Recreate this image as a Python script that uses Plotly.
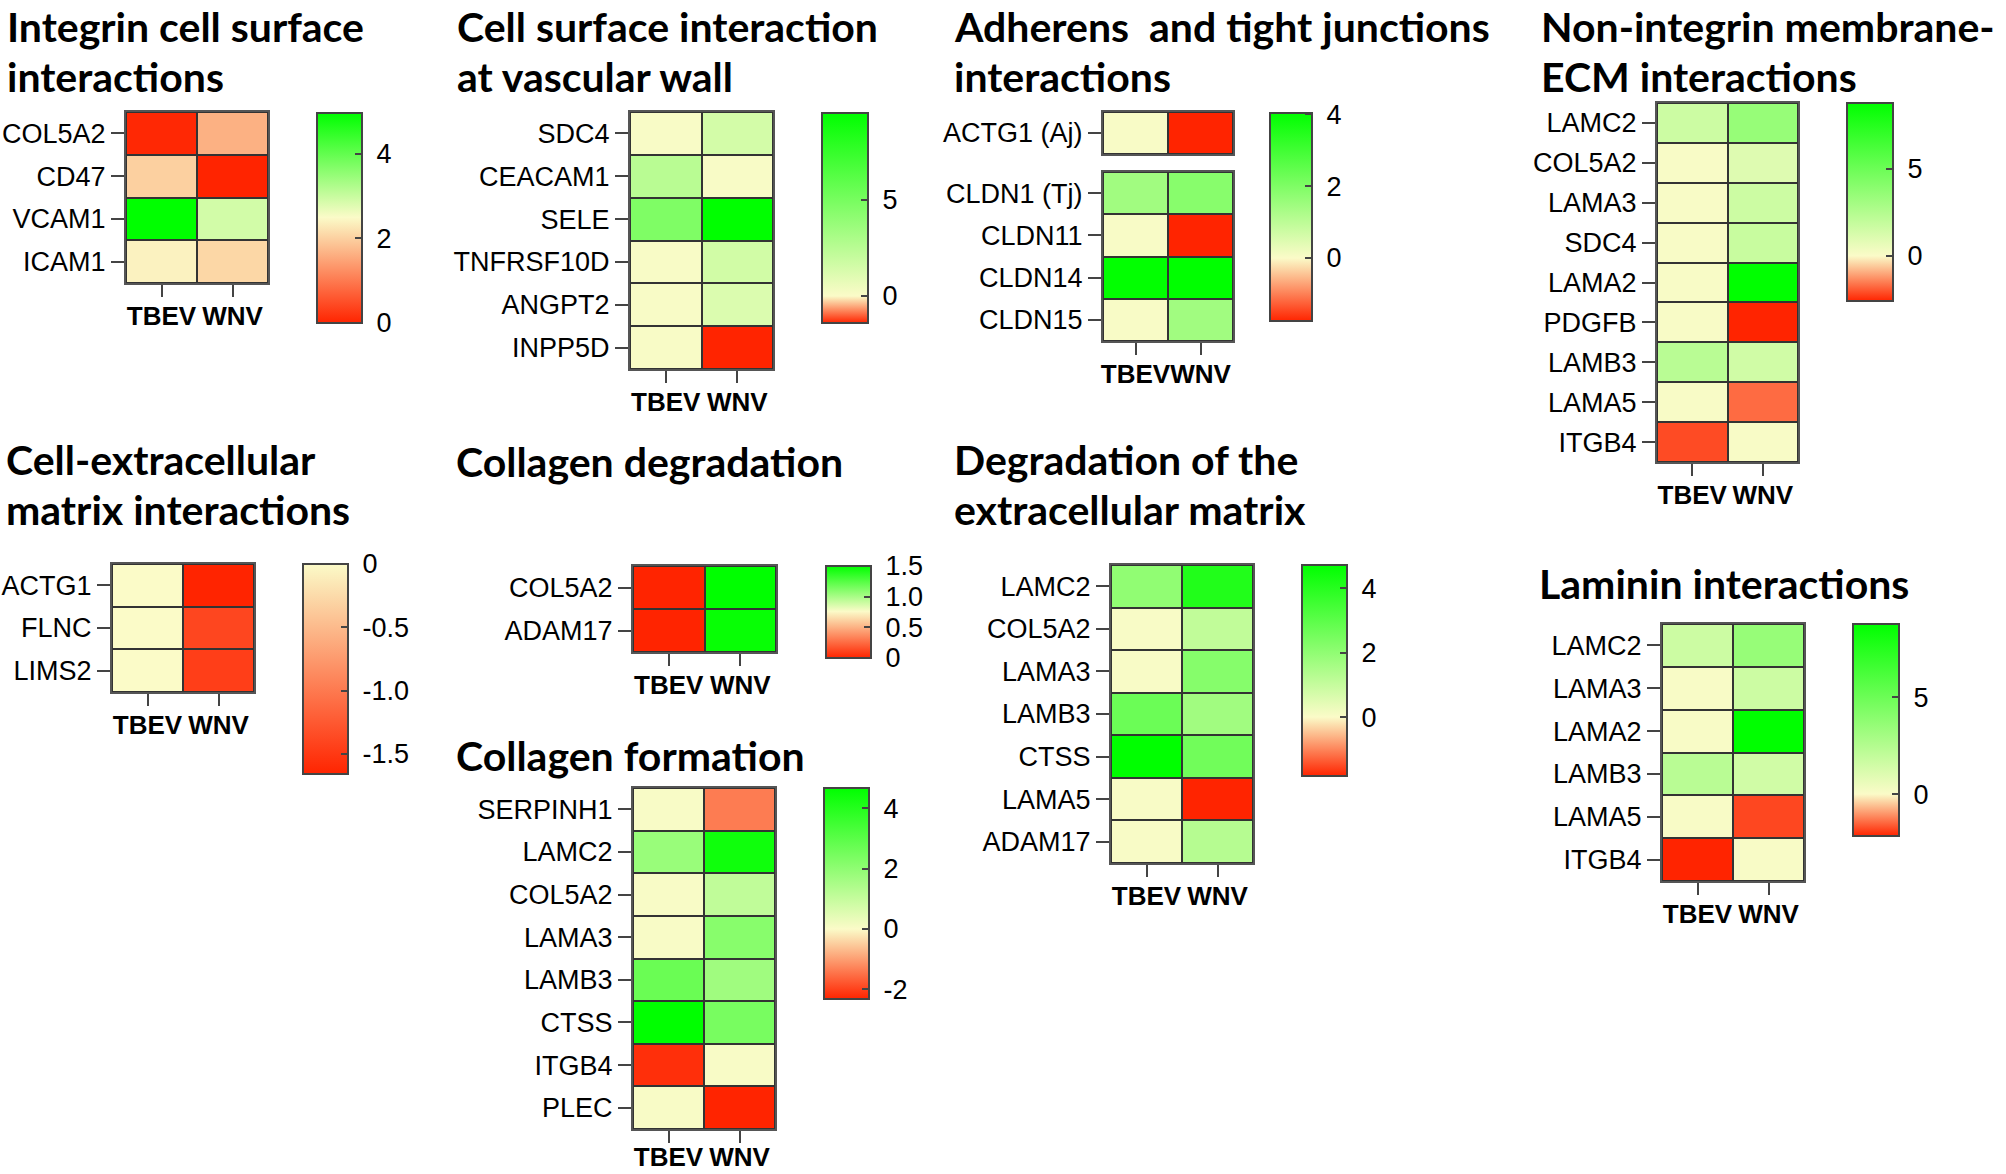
import plotly.graph_objects as go

# ---------------- data ----------------
conditions = ["TBEV", "WNV"]

integrin_genes = ["COL5A2", "CD47", "VCAM1", "ICAM1"]
integrin_tbev = [0.05, 2.0, 4.97, 2.4]
integrin_wnv = [1.64, 0.0, 2.9, 2.08]

vascular_genes = ["SDC4", "CEACAM1", "SELE", "TNFRSF10D", "ANGPT2", "INPP5D"]
vascular_tbev = [0.1, 2.5, 4.7, 0.1, 0.1, 0.1]
vascular_wnv = [1.5, 0.1, 9.5, 1.6, 1.2, -1.4]

aj_genes = ["ACTG1 (Aj)"]
aj_tbev = [0.05]
aj_wnv = [-1.75]
tj_genes = ["CLDN1 (Tj)", "CLDN11", "CLDN14", "CLDN15"]
tj_tbev = [1.45, 0.05, 4.0, 0.05]
tj_wnv = [1.85, -1.75, 4.03, 1.45]

nonint_genes = ["LAMC2", "COL5A2", "LAMA3", "SDC4", "LAMA2", "PDGFB", "LAMB3", "LAMA5", "ITGB4"]
nonint_tbev = [1.65, 0.1, 0.1, 0.1, 0.1, 0.1, 2.3, 0.1, -2.13]
nonint_wnv = [3.5, 1.0, 1.65, 1.8, 8.8, -2.6, 1.5, -1.74, 0.1]

cellecm_genes = ["ACTG1", "FLNC", "LIMS2"]
cellecm_tbev = [0.0, 0.0, 0.0]
cellecm_wnv = [-1.66, -1.4, -1.46]

coldeg_genes = ["COL5A2", "ADAM17"]
coldeg_tbev = [0.0, 0.0]
coldeg_wnv = [1.5, 1.48]

colform_genes = ["SERPINH1", "LAMC2", "COL5A2", "LAMA3", "LAMB3", "CTSS", "ITGB4", "PLEC"]
colform_tbev = [0.05, 1.83, 0.05, 0.05, 2.7, 4.67, -2.2, 0.05]
colform_wnv = [-1.37, 4.4, 1.1, 2.14, 1.7, 2.44, 0.05, -2.32]

degecm_genes = ["LAMC2", "COL5A2", "LAMA3", "LAMB3", "CTSS", "LAMA5", "ADAM17"]
degecm_tbev = [2.0, 0.05, 0.05, 2.7, 4.72, 0.05, 0.05]
degecm_wnv = [4.1, 1.1, 2.2, 1.7, 2.6, -1.83, 1.3]

laminin_genes = ["LAMC2", "LAMA3", "LAMA2", "LAMB3", "LAMA5", "ITGB4"]
laminin_tbev = [1.65, 0.1, 0.1, 2.3, 0.1, -2.17]
laminin_wnv = [3.5, 1.65, 8.8, 1.5, -1.82, 0.1]

titles = [
    ["Integrin cell surface", "interactions"],
    ["Cell surface interaction", "at vascular wall"],
    ["Adherens\u00a0 and tight junctions", "interactions"],
    ["Non-integrin membrane-", "ECM interactions"],
    ["Cell-extracellular", "matrix interactions"],
    ["Collagen degradation"],
    ["Collagen formation"],
    ["Degradation of the", "extracellular matrix"],
    ["Laminin interactions"],
]

# ---------------- layout helpers ----------------
W, H = 2006, 1174
def px(x): return x / W
def py(y): return 1 - y / H

RED, MID, GREEN = "#FF2400", "#FBFBC8", "#00FF00"
SANS = "Liberation Sans"
TICKFONT = dict(family=SANS, size=27, color="black")
CBFONT = dict(family=SANS, size=27, color="black")
XFONT = dict(family=SANS, size=26, color="black", weight="bold")
TITLEFONT = dict(family="Lato", size=41, color="black", weight="bold")

def cscale(cmin, cmax, mid):
    f = (mid - cmin) / (cmax - cmin)
    if f >= 0.999:
        return [[0, RED], [1, MID]]
    if f <= 0.001:
        return [[0, MID], [1, GREEN]]
    return [[0, RED], [f, MID], [1, GREEN]]

# heatmaps: (genes, tbev, wnv, box(x0,x1,y0,y1), coloraxis index, show x labels, label standoff)
heatmaps = [
    (integrin_genes, integrin_tbev, integrin_wnv, (126, 268, 112, 283), 1, True, -3),
    (vascular_genes, vascular_tbev, vascular_wnv, (630, 773, 112, 369), 2, True, -3),
    (aj_genes, aj_tbev, aj_wnv, (1103, 1233, 112, 154), 3, False, -3),
    (tj_genes, tj_tbev, tj_wnv, (1103, 1233, 172, 341), 3, True, -3),
    (nonint_genes, nonint_tbev, nonint_wnv, (1657, 1798, 103, 462), 4, True, -3),
    (cellecm_genes, cellecm_tbev, cellecm_wnv, (112, 254, 564, 692), 5, True, -3),
    (coldeg_genes, coldeg_tbev, coldeg_wnv, (633, 776, 566, 652), 6, True, -3),
    (colform_genes, colform_tbev, colform_wnv, (633, 775, 788, 1129), 7, True, -8),
    (degecm_genes, degecm_tbev, degecm_wnv, (1111, 1253, 565, 863), 8, True, -3),
    (laminin_genes, laminin_tbev, laminin_wnv, (1662, 1804, 624, 881), 9, True, -3),
]

# colour axes: (cmin, cmax, mid, tickvals, ticktext, bar(x0,x1,y0,y1))
caxes = {
    1: (0, 4.97, 2.5, [0, 2, 4], ["0", "2", "4"], (317, 362, 113, 323)),
    2: (-1.4, 9.5, 0, [0, 5], ["0", "5"], (822, 868, 113, 323)),
    3: (-1.75, 4.03, 0, [0, 2, 4], ["0", "2", "4"], (1270, 1312, 113, 321)),
    4: (-2.6, 8.8, 0, [0, 5], ["0", "5"], (1847, 1893, 103, 301)),
    5: (-1.66, 0, 0, [0, -0.5, -1.0, -1.5], ["0", "-0.5", "-1.0", "-1.5"], (303, 348, 564, 774)),
    6: (0, 1.5, 0.76, [0, 0.5, 1.0, 1.5], ["0", "0.5", "1.0", "1.5"], (826, 871, 566, 658)),
    7: (-2.32, 4.67, 0, [-2, 0, 2, 4], ["-2", "0", "2", "4"], (824, 869, 788, 999)),
    8: (-1.83, 4.72, 0, [0, 2, 4], ["0", "2", "4"], (1302, 1347, 565, 776)),
    9: (-2.17, 8.8, 0, [0, 5], ["0", "5"], (1853, 1899, 624, 836)),
}

# title positions: (x left, centre y of first line)
title_pos = [(5, 26), (455, 26), (952, 26), (1539, 26), (4, 459), (454, 461), (454, 755), (952, 459), (1537, 583)]

fig = go.Figure()
layout = dict(
    width=W, height=H, margin=dict(l=0, r=0, t=0, b=0, autoexpand=False),
    paper_bgcolor="white", plot_bgcolor="#333333", showlegend=False,
    annotations=[],
)

for i, (genes, tb, wn, box, ca, showx, stand) in enumerate(heatmaps, start=1):
    z = [[a, b] for a, b in zip(tb, wn)]
    sfx = "" if i == 1 else str(i)
    fig.add_trace(go.Heatmap(
        z=z, x=conditions, y=genes, xgap=2, ygap=2,
        coloraxis="coloraxis" + ("" if ca == 1 else str(ca)),
        xaxis="x" + sfx, yaxis="y" + sfx, hoverinfo="skip",
    ))
    x0, x1, y0, y1 = box
    layout["xaxis" + sfx] = dict(
        domain=[px(x0), px(x1)], anchor="y" + sfx, showline=True, mirror=True,
        linecolor="#555555", linewidth=2, showgrid=False, zeroline=False,
        ticks="outside" if showx else "", ticklen=12, tickwidth=2, tickcolor="#444444",
        showticklabels=showx, tickfont=XFONT, tickangle=0, ticklabelstandoff=stand,
        automargin=False, fixedrange=True,
    )
    layout["yaxis" + sfx] = dict(
        domain=[py(y1), py(y0)], anchor="x" + sfx, showline=True, mirror=True,
        linecolor="#555555", linewidth=2, showgrid=False, zeroline=False,
        autorange="reversed", type="category",
        ticks="outside", ticklen=13, tickwidth=2, tickcolor="#444444",
        tickfont=TICKFONT, automargin=False, fixedrange=True,
    )

for ca, (cmin, cmax, mid, tv, tt, bar) in caxes.items():
    x0, x1, y0, y1 = bar
    layout["coloraxis" + ("" if ca == 1 else str(ca))] = dict(
        cmin=cmin, cmax=cmax, colorscale=cscale(cmin, cmax, mid),
        colorbar=dict(
            x=px(x0), xanchor="left", y=py(y0), yanchor="top",
            len=y1 - y0, lenmode="pixels", thickness=x1 - x0, thicknessmode="pixels",
            xpad=0, ypad=0, outlinewidth=2, outlinecolor="#444444",
            tickvals=tv, ticktext=["\u00a0" + t for t in tt], ticks="inside", ticklen=8,
            tickwidth=2, tickcolor="#444444", tickfont=CBFONT,
        ),
    )

for lines, (tx, ty) in zip(titles, title_pos):
    for k, line in enumerate(lines):
        layout["annotations"].append(dict(
            text=line, xref="paper", yref="paper", x=px(tx), y=py(ty + 50 * k),
            xanchor="left", yanchor="middle", showarrow=False, font=TITLEFONT,
        ))

fig.update_layout(**layout)
fig.write_html(
    "out.html",
    config={"displayModeBar": False},
    post_script="document.body.style.margin='0';document.body.style.overflow='hidden';",
)
